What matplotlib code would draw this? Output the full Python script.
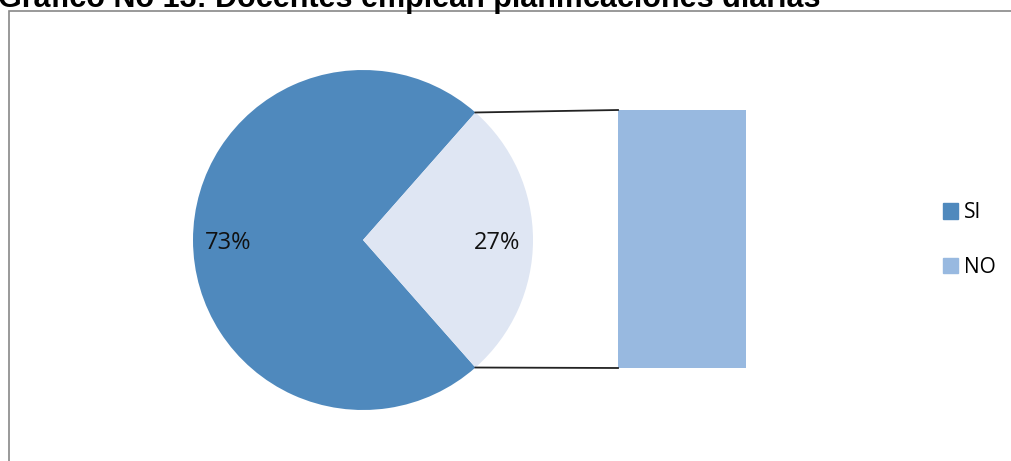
import numpy as np
import matplotlib
matplotlib.use("Agg")
import matplotlib.pyplot as plt
from matplotlib.patches import Rectangle, Patch

# data
labels = ["SI", "NO"]
values = [73, 27]
pct_text = ["73%", "27%"]
sub_values = [27]  # the NO part, expanded into the side bar

C_SI = "#4F89BD"
C_NO_WEDGE = "#DFE6F3"
C_NO_BAR = "#98B9E0"

W, H = 1012, 461
fig = plt.figure(figsize=(W / 100, H / 100), dpi=100)
ax = fig.add_axes([0, 0, 1, 1])

# outer chart frame (partly clipped at the right / bottom)
fig.patches.append(Rectangle((9 / W, -0.1), 1.1, (H - 11) / H + 0.1, transform=fig.transFigure,
                             fill=False, edgecolor="#878787", lw=1.2))

# ---- pie ----
cx, cy, r = 363, H - 240, 170
half = values[1] / sum(values) * 180.0
wedges, _ = ax.pie(values, colors=[C_SI, C_NO_WEDGE], startangle=half, counterclock=True,
                   center=(cx, cy), radius=r, frame=True,
                   wedgeprops=dict(linewidth=0))
ax.set_xlim(0, W)
ax.set_ylim(0, H)
ax.set_aspect("equal")
ax.axis("off")

ax.text(228, H - 243, pct_text[0], ha="center", va="center", fontsize=17,
        family="Open Sans", color="#111111")
ax.text(497, H - 243, pct_text[1], ha="center", va="center", fontsize=17,
        family="Open Sans", color="#111111")

# ---- side bar (pie of pie) ----
bar_x, bar_w = 682, 128
bar_bottom, bar_top = H - 368, H - 110
scale = (bar_top - bar_bottom) / sum(sub_values)
ax.bar([bar_x], [sub_values[0] * scale], width=bar_w, bottom=bar_bottom, color=C_NO_BAR, lw=0)

# connector lines from wedge edges to bar corners
w_no = wedges[1]
for ang, y_bar in [(w_no.theta2, bar_top), (w_no.theta1, bar_bottom)]:
    px = cx + r * np.cos(np.radians(ang))
    py = cy + r * np.sin(np.radians(ang))
    ax.plot([px, bar_x - bar_w / 2], [py, y_bar], color="#222222", lw=1.3)

# ---- legend ----
handles = [Patch(color=C_SI), Patch(color=C_NO_BAR)]
leg = fig.legend(handles, labels, loc="center left", bbox_to_anchor=(924 / W, 1 - 240 / H),
                 frameon=False, prop=dict(family="Open Sans", size=15),
                 handlelength=0.75, handleheight=0.75, handletextpad=0.25, labelspacing=1.6)

# ---- title (clipped at the top, as in the original) ----
fig.text(-2 / W, 1 - 7 / H, "Gráfico No 13: Docentes emplean planificaciones diarias",
         ha="left", va="baseline", fontsize=22, fontweight="bold", family="Liberation Sans")

fig.savefig("out.png", dpi=100)
